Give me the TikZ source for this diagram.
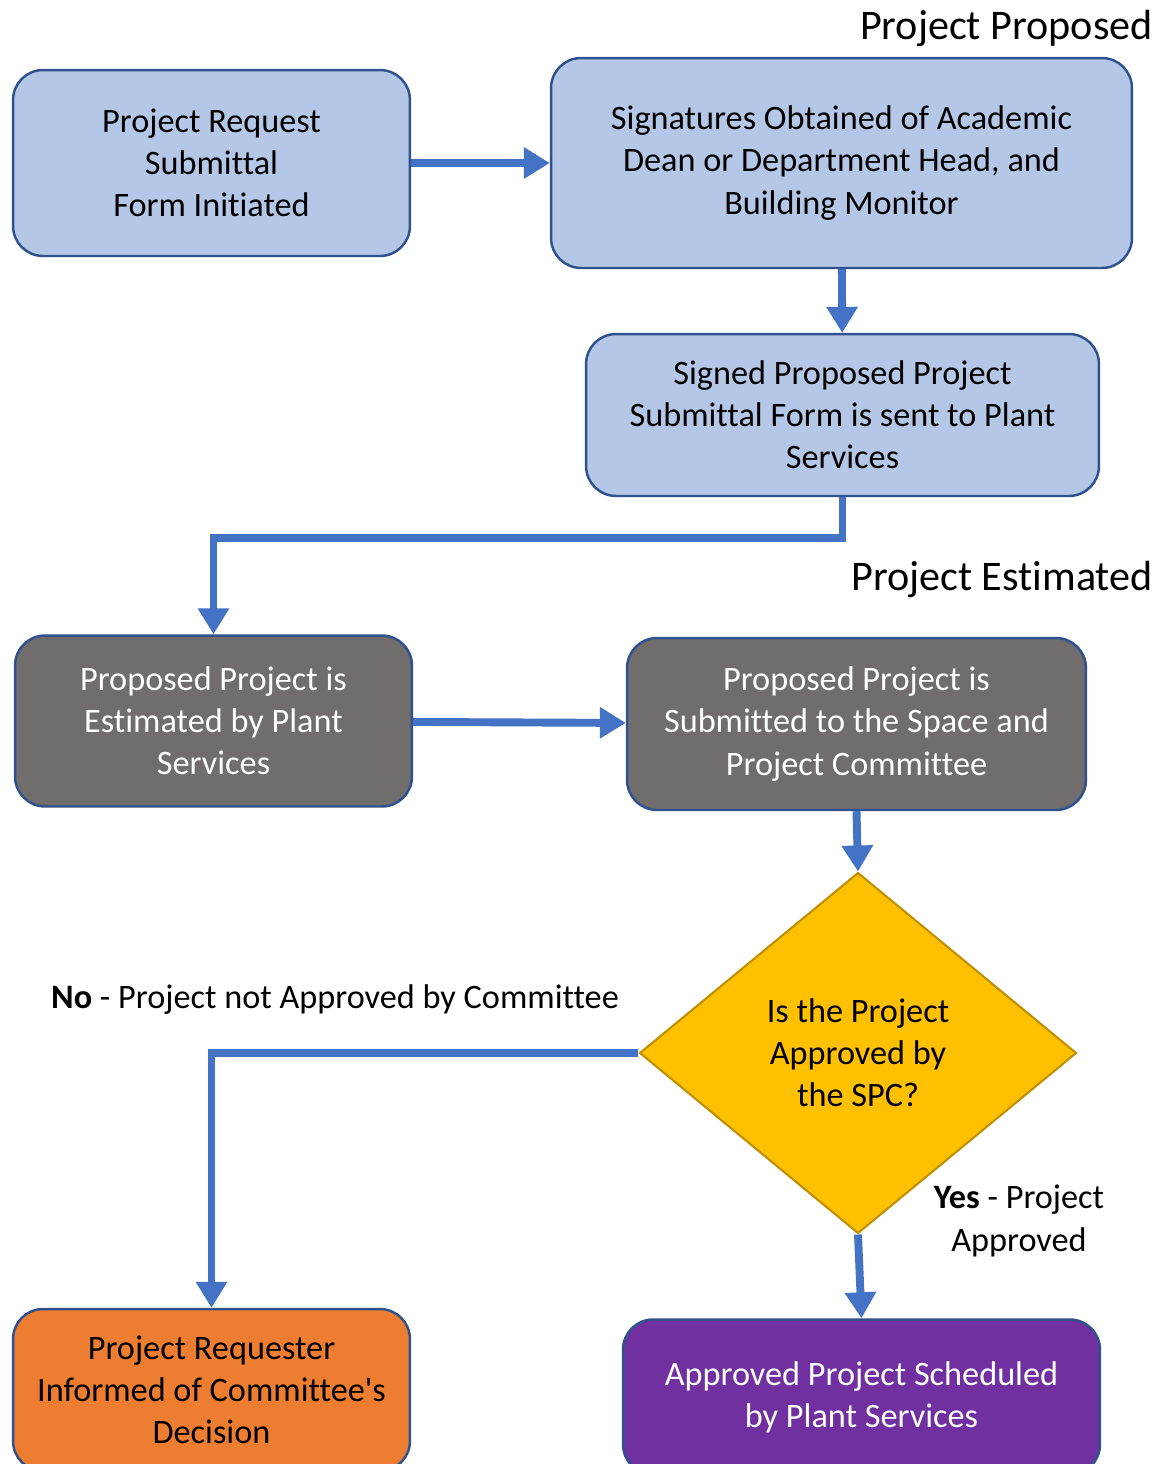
\documentclass[tikz,border=0pt]{standalone}
\usepackage{fontspec}
\setmainfont{Carlito}[Ligatures = NoCommon]
\usetikzlibrary{arrows.meta,shapes.geometric}
\definecolor{flowblue}{HTML}{4472C4}
\definecolor{boxedge}{HTML}{2F528F}
\definecolor{paleblue}{HTML}{B4C7E7}
\definecolor{stonegrey}{HTML}{716D6D}
\definecolor{gold}{HTML}{FFC000}
\definecolor{darkgold}{HTML}{BF9000}
\definecolor{rust}{HTML}{ED7D31}
\definecolor{plum}{HTML}{7030A0}
\begin{document}
\begin{tikzpicture}[x = 0.02cm, y = -0.02cm,
    box/.style = {draw = boxedge, line width = 1.4pt, rounded corners = 0.6cm, align = center, inner sep = 0pt, font = \fontsize{19.5}{24}\selectfont},
    flow/.style = {draw = flowblue, line width = 4.5pt, -{Triangle[width = 0.6cm, length = 0.52cm]}},
    heading/.style = {anchor = east, inner sep = 0pt, font = \fontsize{24}{29}\selectfont}]
    \useasboundingbox (0,0) rectangle (1159,1464);
    % project proposed
    \node[heading] (proposed) at (1153,28) {Project Proposed};
    \node[box, fill = paleblue, minimum width = 7.94cm, minimum height = 3.72cm] (request) at (211.5,163) {Project Request\\Submittal\\Form Initiated};
    \node[box, fill = paleblue, minimum width = 11.62cm, minimum height = 4.2cm] (signatures) at (841.5,163) {Signatures Obtained of Academic\\Dean or Department Head, and\\Building Monitor};
    \node[box, fill = paleblue, minimum width = 10.26cm, minimum height = 3.24cm] (signed) at (842.5,415) {Signed Proposed Project\\Submittal Form is sent to Plant\\Services};
    % project estimated
    \node[heading] (estimated) at (1153,579) {Project Estimated};
    \node[box, fill = stonegrey, text = white, minimum width = 7.94cm, minimum height = 3.42cm] (estimate) at (213.5,721) {Proposed Project is\\Estimated by Plant\\Services};
    \node[box, fill = stonegrey, text = white, minimum width = 9.18cm, minimum height = 3.44cm] (committee) at (856.5,724) {Proposed Project is\\Submitted to the Space and\\Project Committee};
    \node[draw = darkgold, line width = 1.2pt, fill = gold, diamond, aspect = 1.21, inner sep = 0pt, minimum width = 8.74cm, minimum height = 7.22cm, align = center, font = \fontsize{19.5}{24}\selectfont] (spc) at (858,1053) {Is the Project\\Approved by\\the SPC?};
    \node[box, fill = rust, minimum width = 7.94cm, minimum height = 3.24cm] (informed) at (211.5,1390) {Project Requester\\Informed of Committee\textquotesingle s\\Decision};
    \node[box, fill = plum, text = white, minimum width = 9.54cm, minimum height = 3.1cm] (scheduled) at (861.5,1397) {Approved Project Scheduled\\by Plant Services};
    \begin{scope}[every node/.append style = {font = \fontsize{19.5}{24}\selectfont, align = center}]
        \node (no) at (335,1000) {\textbf{No} - Project not Approved by Committee};
        \node (yes) at (1019,1221) {\textbf{Yes} - Project\\Approved};
    \end{scope}
    % connectors
    \draw[flow] (request) -- (signatures);
    \draw[flow] (signatures) -- (signed);
    \draw[flow] (signed.south) -- ++(0,41) -| (estimate.north);
    \draw[flow] (estimate) -- (committee);
    \draw[flow] (committee.south) -- (spc.north);
    \draw[flow] (spc.west) -| (informed.north);
    \draw[flow] (spc.south) -- (scheduled.north);
\end{tikzpicture}
\end{document}
